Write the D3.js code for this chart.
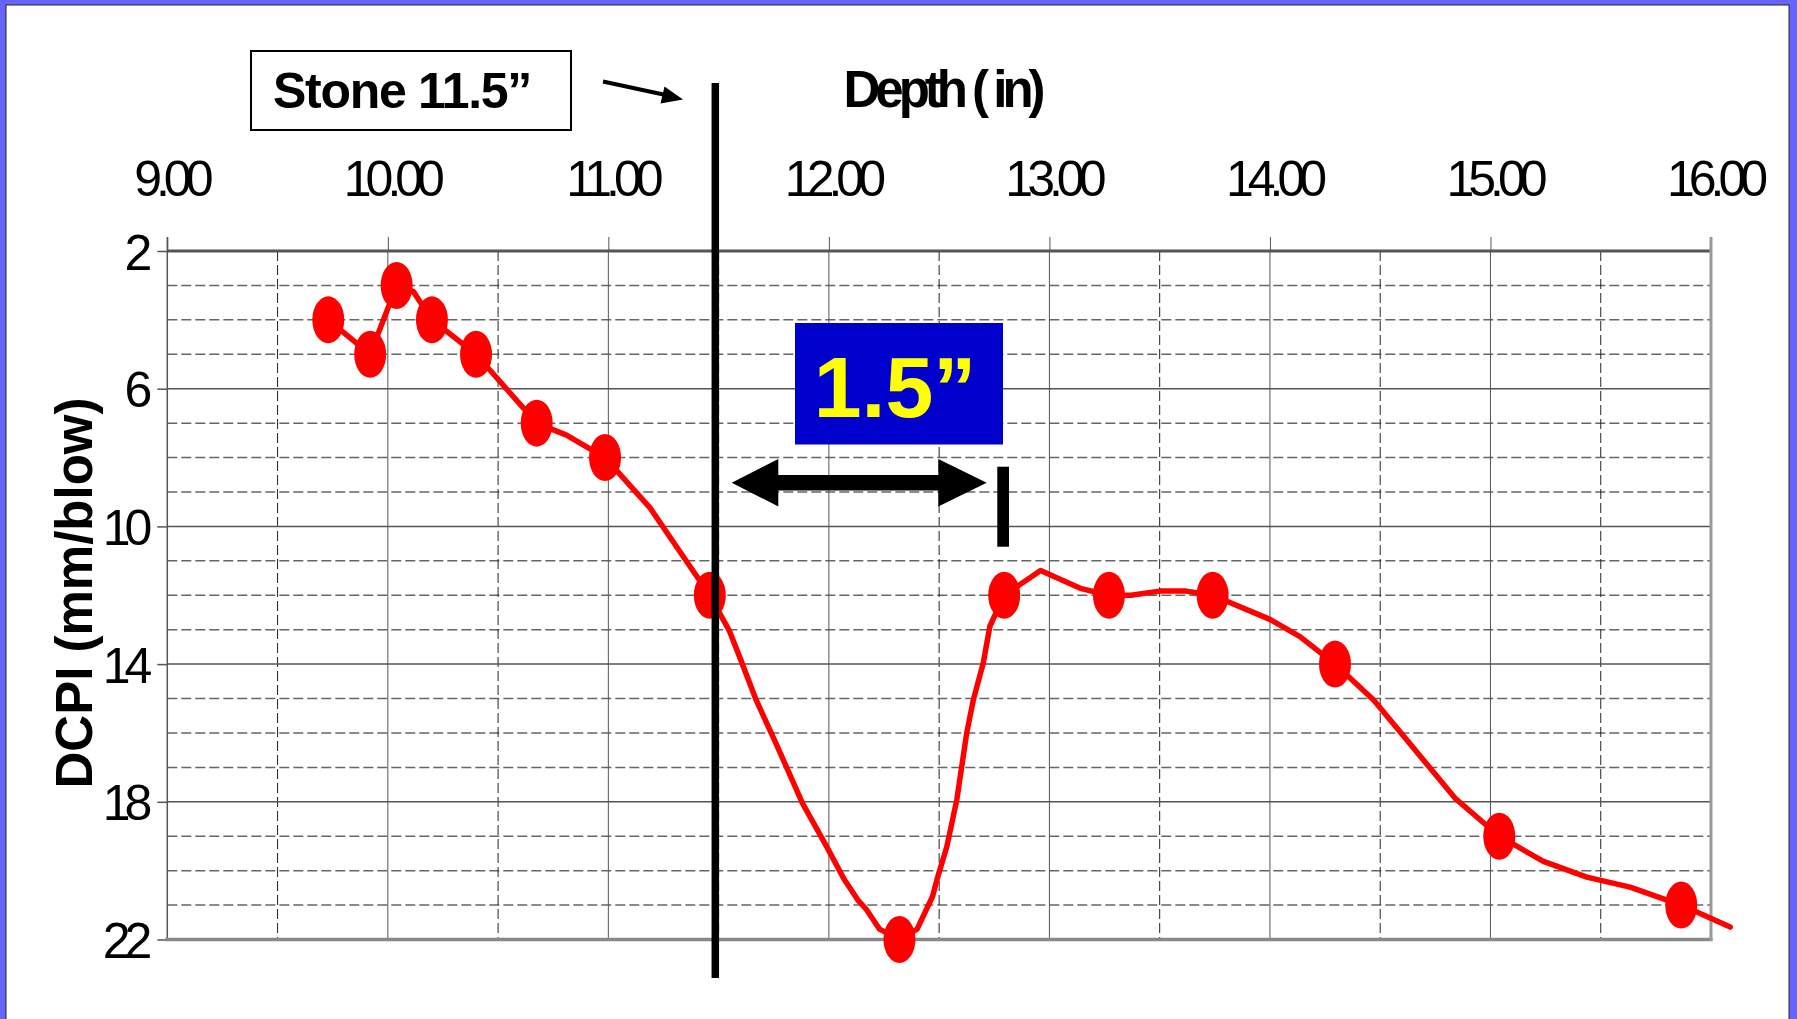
<!DOCTYPE html>
<html><head><meta charset="utf-8">
<script src="https://cdn.jsdelivr.net/npm/d3@7"></script>
<style>
html,body{margin:0;padding:0;background:#6666ff;}
svg{display:block;}
text{font-family:"Liberation Sans",Arial,sans-serif;}
</style></head><body>
<svg id="c" width="1797" height="1019"></svg>
<script>
// ---- data ----
const markerDepth = [9.73, 9.92, 10.04, 10.20, 10.40, 10.675, 10.985, 11.46, 12.32, 12.795, 13.27, 13.74, 14.295, 15.04, 15.865];
const markerDCPI  = [4, 5, 3, 4, 5, 7, 8, 12, 22, 12, 12, 12, 14, 19, 21];
const curveDepth = [9.73, 9.92, 10.04, 10.116, 10.20, 10.40, 10.675, 10.81, 10.985, 11.19, 11.31, 11.46, 11.55, 11.60, 11.67, 11.76, 11.88, 11.99, 12.07, 12.13, 12.17, 12.23, 12.32, 12.40, 12.47, 12.49, 12.535, 12.58, 12.625, 12.655, 12.70, 12.73, 12.795, 12.96, 13.14, 13.27, 13.37, 13.50, 13.62, 13.74, 14.0, 14.136, 14.295, 14.47, 14.62, 14.84, 15.04, 15.24, 15.437, 15.633, 15.865, 16.087];
const curveDCPI  = [4, 5, 3, 3.18, 4, 5, 7, 7.35, 8, 9.47, 10.6, 12, 13.05, 13.87, 15.04, 16.3, 18.04, 19.3, 20.26, 20.84, 21.13, 21.7, 22, 21.7, 20.75, 20.26, 19.3, 17.94, 16.0, 15.04, 13.97, 12.9, 12, 11.28, 11.8, 12, 12, 11.88, 11.88, 12, 12.7, 13.2, 14, 15.04, 16.2, 17.9, 19, 19.73, 20.19, 20.48, 21, 21.64];
const xTickValues = [9, 10, 11, 12, 13, 14, 15, 16];
const xTickLabels = ["9.00", "10.00", "11.00", "12.00", "13.00", "14.00", "15.00", "16.00"];
const xMinorValues = [9.5, 10.5, 11.5, 12.5, 13.5, 14.5, 15.5];
const yMajorTicks = [2, 6, 10, 14, 18, 22];
const yMinorTicks = [3, 4, 5, 7, 8, 9, 11, 12, 13, 15, 16, 17, 19, 20, 21];
const stoneDepth = 11.485;
const xTitle = "Depth ( in)";
const yTitle = "DCPI (mm/blow)";
const stoneLabel = "Stone 11.5\u201D";
const gapLabel = "1.5\u201D";

// ---- scales ----
const x = d3.scaleLinear().domain([9, 16]).range([167.3, 1711]);
const y = d3.scaleLinear().domain([2, 22]).range([251, 939.5]);
const svg = d3.select("#c");

// frame
svg.append("rect").attr("x", 0).attr("y", 0).attr("width", 1797).attr("height", 1019).attr("fill", "#6666ff");
svg.append("rect").attr("x", 6).attr("y", 5).attr("width", 1783).attr("height", 1030)
  .attr("fill", "#ffffff").attr("stroke", "#222").attr("stroke-width", 1);

const g = svg.append("g");
const x0 = x(9), x1 = x(16), yTop = y(2), yBot = y(22);

// horizontal minor dashed
g.selectAll(".hmin").data(yMinorTicks).join("line")
  .attr("x1", x0).attr("x2", x1).attr("y1", d => y(d)).attr("y2", d => y(d))
  .attr("stroke", "#666").attr("stroke-width", 1.5).attr("stroke-dasharray", "10,4");
// vertical minor dashed
g.selectAll(".vmin").data(xMinorValues).join("line")
  .attr("x1", d => x(d)).attr("x2", d => x(d)).attr("y1", yTop).attr("y2", yBot)
  .attr("stroke", "#222").attr("stroke-width", 1).attr("stroke-dasharray", "10,4");
// horizontal major
g.selectAll(".hmaj").data(yMajorTicks.filter(d => d !== 2 && d !== 22)).join("line")
  .attr("x1", x0).attr("x2", x1).attr("y1", d => y(d)).attr("y2", d => y(d))
  .attr("stroke", "#555").attr("stroke-width", 1.5);
// vertical major
g.selectAll(".vmaj").data(xTickValues.filter(d => d !== 9 && d !== 16)).join("line")
  .attr("x1", d => x(d)).attr("x2", d => x(d)).attr("y1", yTop).attr("y2", yBot)
  .attr("stroke", "#555").attr("stroke-width", 1);

// axes
const xAxis = d3.axisTop(x).tickValues(xTickValues)
  .tickFormat((d, i) => xTickLabels[i]).tickSize(14).tickPadding(41);
const gx = g.append("g").attr("transform", `translate(0,${yTop})`).call(xAxis);
gx.select(".domain").remove();
gx.selectAll(".tick line").attr("stroke", "#555").attr("stroke-width", 1);
gx.selectAll(".tick text").attr("fill", "#000").attr("font-size", 50)
  .attr("letter-spacing", "-6px").attr("dx", 3)
  .style("font-family", '"Liberation Sans",Arial,sans-serif');

const yAxis = d3.axisLeft(y).tickValues(yMajorTicks).tickFormat(d3.format("d")).tickSize(10).tickPadding(11);
const gy = g.append("g").attr("transform", `translate(${x0},0)`).call(yAxis);
gy.select(".domain").remove();
gy.selectAll(".tick line").attr("stroke", "#555").attr("stroke-width", 1.5);
gy.selectAll(".tick text").attr("fill", "#000").attr("font-size", 50)
  .attr("letter-spacing", "-6px").attr("dy", "0.36em")
  .style("font-family", '"Liberation Sans",Arial,sans-serif');

// borders
g.append("line").attr("x1", x0).attr("x2", x0).attr("y1", yTop - 14).attr("y2", yBot).attr("stroke", "#555").attr("stroke-width", 1.5);
g.append("line").attr("x1", x0).attr("x2", x1).attr("y1", yTop).attr("y2", yTop).attr("stroke", "#555").attr("stroke-width", 3);
g.append("line").attr("x1", x0 - 2).attr("x2", x1 + 1.5).attr("y1", yBot).attr("y2", yBot).attr("stroke", "#888").attr("stroke-width", 3.5);
g.append("line").attr("x1", x1).attr("x2", x1).attr("y1", yTop - 14).attr("y2", yBot + 1.5).attr("stroke", "#999").attr("stroke-width", 3);

// curve
const pts = curveDepth.map((d, i) => [d, curveDCPI[i]]);
g.append("path").datum(pts)
  .attr("d", d3.line().x(d => x(d[0])).y(d => y(d[1])))
  .attr("fill", "none").attr("stroke", "#ff0000").attr("stroke-width", 5.5)
  .attr("stroke-linejoin", "round").attr("stroke-linecap", "round");

// markers
g.selectAll(".mk").data(markerDepth.map((d, i) => [d, markerDCPI[i]])).join("ellipse")
  .attr("cx", d => x(d[0])).attr("cy", d => y(d[1])).attr("rx", 16).attr("ry", 23.5)
  .attr("fill", "#ff0000");

// stone line
g.append("line").attr("x1", x(stoneDepth)).attr("x2", x(stoneDepth)).attr("y1", 83).attr("y2", 978)
  .attr("stroke", "#000").attr("stroke-width", 7.5);

// titles
svg.append("text").attr("x", 942).attr("y", 107).attr("text-anchor", "middle")
  .attr("font-size", 51).attr("font-weight", "bold").attr("letter-spacing", "-5px").text(xTitle);
svg.append("text").attr("transform", "translate(92,593) rotate(-90)").attr("text-anchor", "middle")
  .attr("font-size", 51).attr("font-weight", "bold").text(yTitle);

// stone annotation
svg.append("rect").attr("x", 251).attr("y", 51).attr("width", 320).attr("height", 79)
  .attr("fill", "#fff").attr("stroke", "#000").attr("stroke-width", 2);
svg.append("text").attr("x", 273).attr("y", 108).attr("font-size", 50).attr("font-weight", "bold")
  .attr("letter-spacing", "-1.3px").text(stoneLabel);
svg.append("line").attr("x1", 603).attr("y1", 81.5).attr("x2", 668).attr("y2", 95.5)
  .attr("stroke", "#000").attr("stroke-width", 4);
svg.append("path").attr("d", "M683,99.5 L664.5,86.5 L660.5,103.5 Z").attr("fill", "#000");

// gap annotation
svg.append("rect").attr("x", 795).attr("y", 323).attr("width", 208).attr("height", 121.5).attr("fill", "#0000cc");
svg.append("text").attr("x", 895).attr("y", 416.7).attr("text-anchor", "middle")
  .attr("font-size", 86).attr("font-weight", "bold").attr("fill", "#ffff00").text(gapLabel);
svg.append("path")
  .attr("d", "M731.7,482.7 L778.3,459 L778.3,474.9 L938.3,474.9 L938.3,459 L986.7,482.7 L938.3,506.4 L938.3,490.5 L778.3,490.5 L778.3,506.4 Z")
  .attr("fill", "#000");
svg.append("rect").attr("x", 997.3).attr("y", 466.7).attr("width", 11.7).attr("height", 80).attr("fill", "#000");
</script>
</body></html>
